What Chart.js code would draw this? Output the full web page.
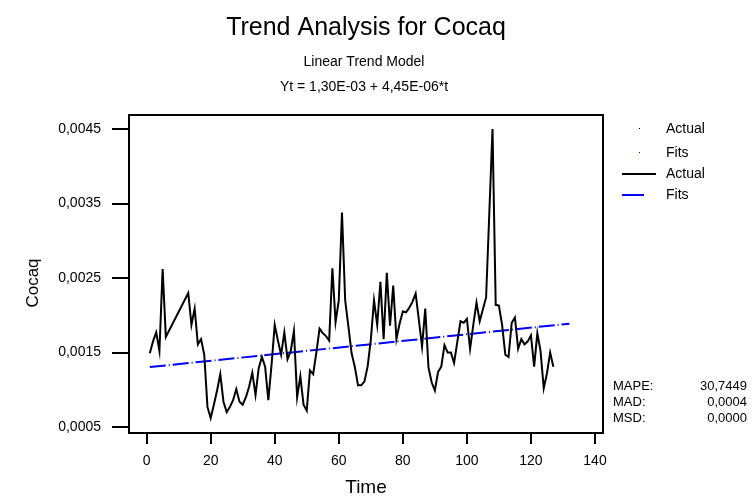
<!DOCTYPE html>
<html>
<head>
<meta charset="utf-8">
<title>Trend Analysis for Cocaq</title>
<script src="https://cdn.jsdelivr.net/npm/chart.js@4.4.1/dist/chart.umd.min.js"></script>
<style>
  html, body { margin: 0; padding: 0; background: #fff; }
  canvas { display: block; }
</style>
</head>
<body>
<canvas id="trendChart" width="753" height="497"></canvas>
<script>
// Cocaq observations, t = 1..127 (null = missing, line is carried across)
const actual = [
    0.00149, 0.00165, 0.00177, 0.00152, 0.00262, 0.00171, null, null, null, null,
    null, null, 0.00230, 0.00187, 0.00209, 0.00161, 0.00168, 0.00147, 0.00077, 0.00062,
    0.00080, 0.00099, 0.00121, 0.00084, 0.00070, 0.00077, 0.00086, 0.00101, 0.00084, 0.00080,
    0.00090, 0.00104, 0.00123, 0.00093, 0.00129, 0.00144, 0.00131, 0.00086, 0.00133, 0.00187,
    0.00166, 0.00147, 0.00177, 0.00141, 0.00152, 0.00179, 0.00090, 0.00118, 0.00080, 0.00072,
    0.00126, 0.00121, 0.00150, 0.00182, 0.00176, 0.00172, 0.00166, 0.00263, 0.00191, 0.00220,
    0.00338, 0.00220, 0.00185, 0.00149, 0.00131, 0.00106, 0.00106, 0.00111, 0.00131, 0.00167,
    0.00220, 0.00187, 0.00245, 0.00168, 0.00257, 0.00186, 0.00240, 0.00168, 0.00189, 0.00205,
    0.00204, 0.00210, 0.00218, 0.00229, 0.00194, 0.00158, 0.00209, 0.00130, 0.00110, 0.00099,
    0.00124, 0.00131, 0.00160, 0.00150, 0.00150, 0.00136, 0.00164, 0.00192, 0.00190, 0.00195,
    0.00155, 0.00187, 0.00217, 0.00192, 0.00208, 0.00224, 0.00337, 0.00450, 0.00214, 0.00213,
    0.00187, 0.00147, 0.00144, 0.00190, 0.00197, 0.00155, 0.00168, 0.00161, 0.00165, 0.00173,
    0.00131, 0.00176, 0.00152, 0.00102, 0.00122, 0.00150, 0.00131
];

// fitted trend Yt = 1,30E-03 + 4,45E-06*t, end points at t = 1 and t = 132
const fitTime = [1, 132];
const fitValues = [0.0013045, 0.0018874];

const xTicks = [0, 20, 40, 60, 80, 100, 120, 140];
const yTicks = [0.0005, 0.0015, 0.0025, 0.0035, 0.0045];

const stats = [
    ['MAPE:', '30,7449'],
    ['MAD:', '0,0004'],
    ['MSD:', '0,0000']
];

const FONT = "'Liberation Sans', Arial, Helvetica, sans-serif";
Chart.defaults.font.family = FONT;
Chart.defaults.color = '#000';

const actualPoints = actual.map((v, i) => ({ x: i + 1, y: v }));
const fitPoints = fitTime.map((t, i) => ({ x: t, y: fitValues[i] }));

// frame, headings, y title, legend and accuracy measures
const decorations = {
    id: 'decorations',
    afterDraw(chart) {
        const { ctx, chartArea: a } = chart;
        ctx.save();
        ctx.strokeStyle = '#000';
        ctx.lineWidth = 2;
        ctx.strokeRect(a.left, a.top, a.right - a.left, a.bottom - a.top);

        ctx.fillStyle = '#000';
        ctx.textAlign = 'center';
        ctx.textBaseline = 'alphabetic';
        ctx.font = `25px ${FONT}`;
        ctx.fillText('Trend Analysis for Cocaq', 366, 35);
        ctx.font = `14px ${FONT}`;
        ctx.fillText('Linear Trend Model', 364, 66);
        ctx.fillText('Yt = 1,30E-03 + 4,45E-06*t', 364, 91);

        // y axis title, read bottom to top
        ctx.save();
        ctx.translate(33, 283);
        ctx.rotate(-Math.PI / 2);
        ctx.textBaseline = 'middle';
        ctx.font = `17px ${FONT}`;
        ctx.fillText('Cocaq', 0, 0);
        ctx.restore();

        // legend
        ctx.textAlign = 'left';
        ctx.textBaseline = 'middle';
        ctx.font = `14px ${FONT}`;
        ctx.fillRect(639, 128, 1, 1);
        ctx.fillText('Actual', 666, 129);
        ctx.fillStyle = '#0000ff';
        ctx.fillRect(639, 152, 1, 1);
        ctx.fillStyle = '#000';
        ctx.fillText('Fits', 666, 153);
        ctx.beginPath();
        ctx.moveTo(622, 174);
        ctx.lineTo(656, 174);
        ctx.stroke();
        ctx.fillText('Actual', 666, 174);
        ctx.strokeStyle = '#0000ff';
        ctx.beginPath();
        ctx.moveTo(622, 195);
        ctx.lineTo(644, 195);
        ctx.stroke();
        ctx.fillText('Fits', 666, 195);

        // accuracy measures
        ctx.font = `13px ${FONT}`;
        stats.forEach(([name, val], i) => {
            const y = 386 + i * 16;
            ctx.textAlign = 'left';
            ctx.fillText(name, 613, y);
            ctx.textAlign = 'right';
            ctx.fillText(val, 747, y);
        });
        ctx.restore();
    }
};

new Chart(document.getElementById('trendChart'), {
    type: 'line',
    data: {
        datasets: [{
            label: 'Actual',
            data: actualPoints,
            borderColor: '#000',
            borderWidth: 2,
            pointRadius: 0,
            tension: 0,
            spanGaps: true
        }, {
            label: 'Fits',
            data: fitPoints,
            borderColor: '#0000ff',
            borderWidth: 2,
            borderDash: [16, 3, 1, 3],
            pointRadius: 0,
            tension: 0
        }]
    },
    options: {
        responsive: false,
        animation: false,
        events: [],
        layout: { padding: { left: 0, top: 115, right: 150, bottom: 0 } },
        plugins: {
            legend: { display: false },
            tooltip: { enabled: false }
        },
        scales: {
            x: {
                type: 'linear',
                min: -5.5,
                max: 142.5,
                afterBuildTicks: s => { s.ticks = xTicks.map(value => ({ value })); },
                afterFit: s => { s.height = 64; },
                grid: { drawOnChartArea: false, color: '#000', lineWidth: 2, tickLength: 11 },
                border: { color: '#000', width: 2 },
                ticks: { font: { size: 14 }, padding: 9, maxRotation: 0 },
                title: { display: true, text: 'Time', font: { size: 19 }, padding: { top: 0, bottom: -2 } }
            },
            y: {
                min: 0.00042,
                max: 0.004688,
                afterBuildTicks: s => { s.ticks = yTicks.map(value => ({ value })); },
                afterFit: s => { s.width = 129; },
                grid: { drawOnChartArea: false, color: '#000', lineWidth: 2, tickLength: 17 },
                border: { color: '#000', width: 2 },
                ticks: {
                    font: { size: 14 },
                    padding: 11,
                    callback: v => v.toFixed(4).replace('.', ',')
                }
            }
        }
    },
    plugins: [decorations]
});
</script>
</body>
</html>
